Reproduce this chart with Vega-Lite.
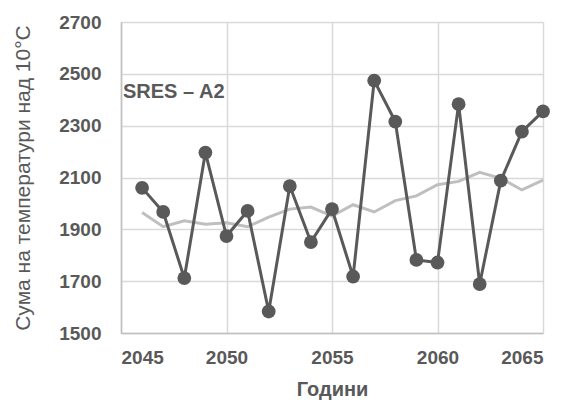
{
  "$schema": "https://vega.github.io/schema/vega-lite/v6.json",
  "autosize": {"type": "none"},
  "width": 422,
  "height": 311,
  "padding": {"left": 121, "top": 22, "right": 24, "bottom": 70},
  "background": "white",
  "config": {
    "view": {"stroke": null},
    "font": "Liberation Sans"
  },
  "datasets": {
    "obs": [
      {"year": 2046, "value": 2060, "trend": 1965},
      {"year": 2047, "value": 1967, "trend": 1910},
      {"year": 2048, "value": 1712, "trend": 1933},
      {"year": 2049, "value": 2196, "trend": 1920},
      {"year": 2050, "value": 1874, "trend": 1925},
      {"year": 2051, "value": 1971, "trend": 1910},
      {"year": 2052, "value": 1583, "trend": 1947},
      {"year": 2053, "value": 2067, "trend": 1978},
      {"year": 2054, "value": 1851, "trend": 1986},
      {"year": 2055, "value": 1978, "trend": 1951},
      {"year": 2056, "value": 1718, "trend": 1995},
      {"year": 2057, "value": 2474, "trend": 1967},
      {"year": 2058, "value": 2316, "trend": 2011},
      {"year": 2059, "value": 1782, "trend": 2029},
      {"year": 2060, "value": 1772, "trend": 2072},
      {"year": 2061, "value": 2383, "trend": 2085},
      {"year": 2062, "value": 1689, "trend": 2120},
      {"year": 2063, "value": 2088, "trend": 2097},
      {"year": 2064, "value": 2277, "trend": 2052},
      {"year": 2065, "value": 2355, "trend": 2090}
    ],
    "label": [{"year": 2045, "value": 2430, "text": "SRES – A2"}]
  },
  "layer": [
    {
      "data": {"name": "obs"},
      "mark": {"type": "line", "color": "#bfbfbf", "strokeWidth": 3},
      "encoding": {
        "x": {
          "field": "year", "type": "quantitative",
          "scale": {"domain": [2045, 2065], "nice": false, "zero": false},
          "axis": {
            "values": [2045, 2050, 2055, 2060, 2065],
            "format": "d",
            "title": "Години",
            "titleFont": "Liberation Sans", "titleFontSize": 20, "titleFontWeight": "bold", "titleColor": "#595959",
            "titlePadding": 12,
            "labelFont": "Liberation Sans", "labelFontSize": 19, "labelFontWeight": "bold", "labelColor": "#595959",
            "labelPadding": 15,
            "grid": true, "gridColor": "#d9d9d9", "gridWidth": 1.5,
            "domainColor": "#bfbfbf", "domainWidth": 1.5,
            "ticks": false
          }
        },
        "y": {
          "field": "trend", "type": "quantitative",
          "scale": {"domain": [1500, 2700], "nice": false, "zero": false},
          "axis": {
            "values": [1500, 1700, 1900, 2100, 2300, 2500, 2700],
            "format": "d",
            "title": "Сума на температури над 10°C",
            "titleFont": "Liberation Sans", "titleFontSize": 21, "titleFontWeight": "normal", "titleColor": "#595959",
            "titlePadding": 25,
            "labelFont": "Liberation Sans", "labelFontSize": 19, "labelFontWeight": "bold", "labelColor": "#595959",
            "labelPadding": 20,
            "grid": true, "gridColor": "#d9d9d9", "gridWidth": 1.5,
            "domainColor": "#bfbfbf", "domainWidth": 1.5,
            "ticks": false
          }
        }
      }
    },
    {
      "data": {"name": "obs"},
      "mark": {"type": "line", "color": "#595959", "strokeWidth": 3, "point": {"filled": true, "size": 190, "color": "#595959", "opacity": 1}},
      "encoding": {
        "x": {"field": "year", "type": "quantitative"},
        "y": {"field": "value", "type": "quantitative"}
      }
    },
    {
      "data": {"name": "label"},
      "mark": {"type": "text", "align": "left", "baseline": "middle", "font": "Liberation Sans", "fontSize": 20, "fontWeight": "bold", "color": "#595959", "dx": 2},
      "encoding": {
        "x": {"field": "year", "type": "quantitative"},
        "y": {"field": "value", "type": "quantitative"},
        "text": {"field": "text"}
      }
    }
  ]
}
